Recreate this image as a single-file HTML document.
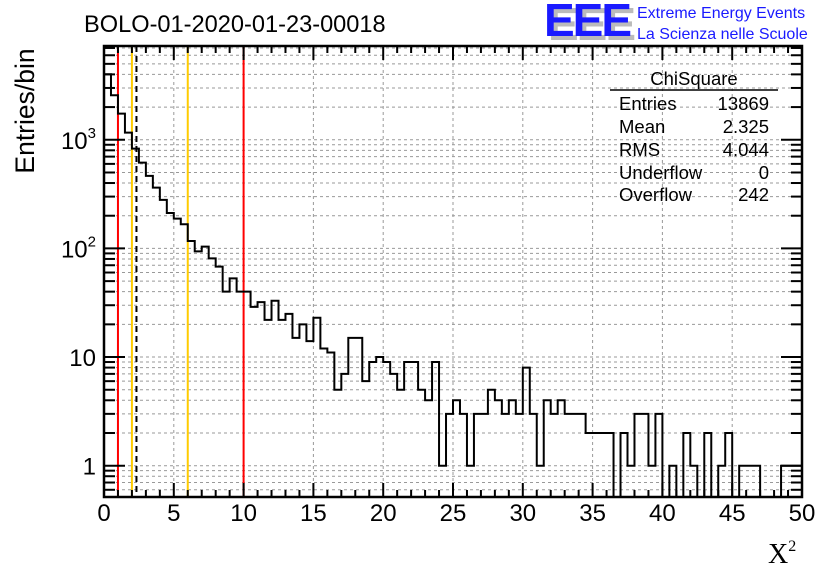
<!DOCTYPE html>
<html><head><meta charset="utf-8"><style>
html,body{margin:0;padding:0;background:#fff;}
svg{display:block;font-family:"Liberation Sans",sans-serif;}
</style></head><body>
<svg id="chart" width="836" height="572" viewBox="0 0 836 572" xmlns="http://www.w3.org/2000/svg">
<text x="84" y="32" font-size="23.6">BOLO-01-2020-01-23-00018</text>
<g>
<text x="548" y="40" font-size="46" font-weight="bold" fill="#bbb" letter-spacing="-2">EEE</text>
<text x="544" y="36" font-size="46" font-weight="bold" fill="#1a1aff" letter-spacing="-2">EEE</text>
<text x="637" y="18" font-size="16" fill="#1a1aff">Extreme Energy Events</text>
<text x="637" y="39" font-size="16" fill="#1a1aff">La Scienza nelle Scuole</text>
</g>
<text transform="translate(34,111) rotate(-90)" text-anchor="middle" font-size="26.5">Entries/bin</text>
<text x="768" y="563" font-size="28" font-family="Liberation Serif,serif">X<tspan font-size="16" dy="-12">2</tspan></text>
<g id="grid"></g><g id="marks"></g><g id="axes"></g>
<g font-size="18.5">
<text x="694" y="85" text-anchor="middle">ChiSquare</text>
<line x1="610" y1="90" x2="778" y2="90" stroke="#000" stroke-width="1.5"/>
<text x="619" y="110">Entries</text><text x="769" y="110" text-anchor="end">13869</text>
<text x="619" y="133">Mean</text><text x="769" y="133" text-anchor="end">2.325</text>
<text x="619" y="156">RMS</text><text x="769" y="156" text-anchor="end">4.044</text>
<text x="619" y="179">Underflow</text><text x="769" y="179" text-anchor="end">0</text>
<text x="619" y="201">Overflow</text><text x="769" y="201" text-anchor="end">242</text>
</g>
</svg>
<script>
const counts=[4010,2570,1740,1165,830,617,465,363,280,212,188,167,117,94,104,81,68,40,53,40,
40,29,32,22,33,22,25,15,20,14,23,12,11,5,7,15,15,6,9,10,
9,7,5,9,9,5,4,9,1,3,4,3,1,3,3,5,4,3,4,3,
8,3,1,4,3,4,3,3,3,2,2,2,2,0,2,1,3,3,1,3,
0,1,0,2,1,0,2,0,1,2,0,1,1,1,0,0,0,1,1,1];
const binWidth=[0.5];
const xTickLabels=["0","5","10","15","20","25","30","35","40","45","50"];
const yTickLabels=["1","10","10^2","10^3"];
const cutLinesRed=[1,10];
const cutLinesYellow=[2,6];
const meanValue=[2.325];
const X0=104,X1=802,Y0=46,Y1=497,XMIN=0,XMAX=50,YMIN=0.515,YMAX=7300;
const NS="http://www.w3.org/2000/svg";
function sx(v){return X0+(v-XMIN)/(XMAX-XMIN)*(X1-X0);}
function sy(v){return Y1-(Math.log10(v)-Math.log10(YMIN))/(Math.log10(YMAX)-Math.log10(YMIN))*(Y1-Y0);}
function el(p,t,a){const e=document.createElementNS(NS,t);for(const k in a)e.setAttribute(k,a[k]);p.appendChild(e);return e;}
const grid=document.getElementById('grid'),marks=document.getElementById('marks'),axes=document.getElementById('axes');
for(let v=5;v<50;v+=5){const l=el(grid,'line',{x1:sx(v),x2:sx(v),y1:Y0,y2:Y1,stroke:'#999','stroke-dasharray':'3,3','stroke-width':1});
}
for(let d=-1;d<=3;d++)for(let m=1;m<10;m++){const v=m*Math.pow(10,d);if(v<YMIN||v>YMAX)continue;const y=sy(v);
const l=el(grid,'line',{x1:X0,x2:X1,y1:y,y2:y,stroke:'#999','stroke-dasharray':'3,3','stroke-width':1});
}
cutLinesRed.forEach(v=>{const l=el(marks,'line',{x1:sx(v),x2:sx(v),y1:Y0,y2:Y1,stroke:'#f00','stroke-width':2});
});
cutLinesYellow.forEach(v=>{const l=el(marks,'line',{x1:sx(v),x2:sx(v),y1:Y0,y2:Y1,stroke:'#fc0','stroke-width':2});
});
const ml=el(marks,'line',{x1:sx(meanValue[0]),x2:sx(meanValue[0]),y1:Y0,y2:Y1,stroke:'#000','stroke-width':2,'stroke-dasharray':'6,4'});

let d='';const bw=binWidth[0];
counts.forEach((c,i)=>{const y=c>0?Math.min(sy(c),Y1):Y1;const xa=sx(i*bw),xb=sx((i+1)*bw);
d+=(i===0?'M'+xa+','+Y1+' L':' L')+xa+','+y+' L'+xb+','+y;});
d+=' L'+sx(counts.length*bw)+','+Y1;
const h=el(marks,'path',{d:d,fill:'none',stroke:'#000','stroke-width':2});

const fr=el(axes,'rect',{x:X0,y:Y0,width:X1-X0,height:Y1-Y0,fill:'none',stroke:'#000','stroke-width':2.5});

for(let v=0;v<=50;v++){const L=v%5===0?14:7;const x=sx(v);
el(axes,'line',{x1:x,x2:x,y1:Y1,y2:Y1-L,stroke:'#000','stroke-width':2});
el(axes,'line',{x1:x,x2:x,y1:Y0,y2:Y0+L,stroke:'#000','stroke-width':2});}
xTickLabels.forEach((t,i)=>{const tx=el(axes,'text',{x:sx(i*5),y:521,'text-anchor':'middle','font-size':24});tx.textContent=t;
});
for(let dd=-1;dd<=3;dd++)for(let m=1;m<10;m++){const v=m*Math.pow(10,dd);if(v<YMIN||v>YMAX)continue;const y=sy(v);const L=m===1?21:11;
el(axes,'line',{x1:X0,x2:X0+L,y1:y,y2:y,stroke:'#000','stroke-width':2});
el(axes,'line',{x1:X1,x2:X1-L,y1:y,y2:y,stroke:'#000','stroke-width':2});}
yTickLabels.forEach((t,i)=>{const y=sy(Math.pow(10,i))+9;const tx=el(axes,'text',{x:96,y:y,'text-anchor':'end','font-size':24});
if(t.indexOf('^')>0){const p=t.split('^');tx.textContent=p[0];const ts=el(tx,'tspan',{'font-size':15,dy:-11});ts.textContent=p[1];}else tx.textContent=t;
});
</script>
</body></html>
